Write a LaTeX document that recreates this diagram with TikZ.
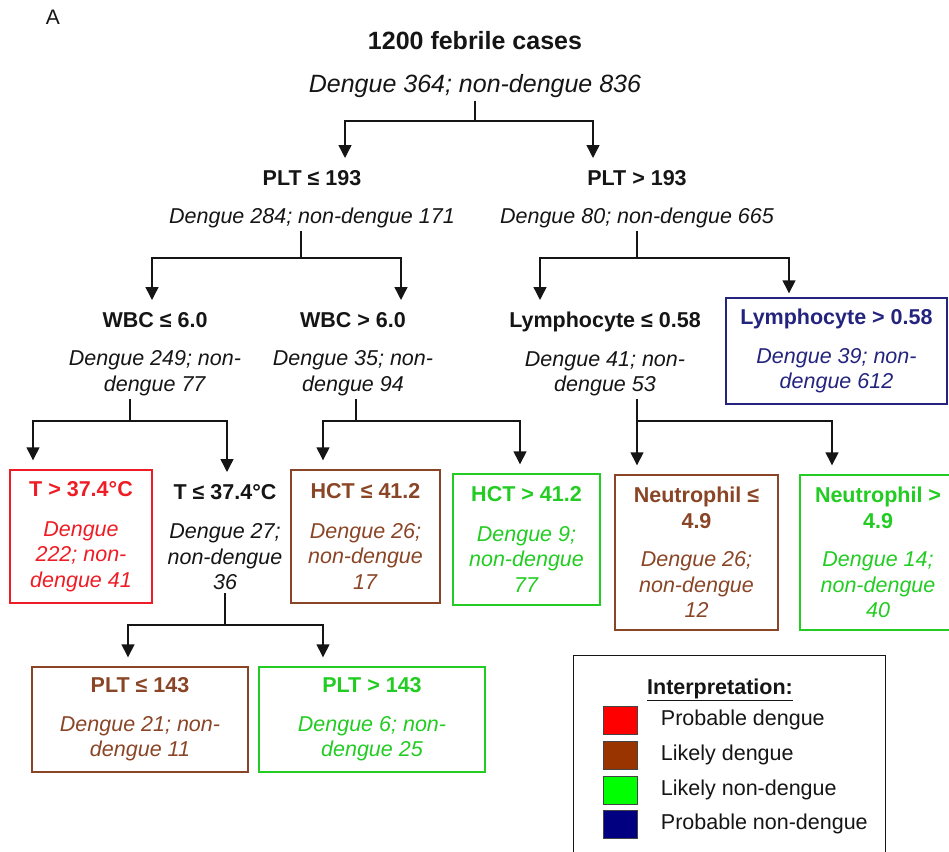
\documentclass[tikz,border=0pt]{standalone}
\usepackage{fontspec}
\setmainfont{Liberation Sans}
\usepackage{xcolor}
\usetikzlibrary{arrows.meta,positioning}
\definecolor{Ink}{HTML}{151515}
\definecolor{RedLeaf}{HTML}{EE1C24}
\definecolor{BrownLeaf}{HTML}{8A4526}
\definecolor{GreenLeaf}{HTML}{22CC22}
\definecolor{NavyLeaf}{HTML}{24247E}
\newcommand{\treefont}{\fontsize{21.5}{25.5}\selectfont}
\newcommand{\rootfont}{\fontsize{25}{29}\selectfont}

\begin{document}
\begin{tikzpicture}[x=1pt,y=-1pt,>=Latex,
  split/.style={align=center,font=\treefont,text=Ink,inner sep=3pt,anchor=north},
  leaf/.style={align=center,font=\treefont,draw=#1,text=#1,line width=1.4pt,inner sep=2pt},
  link/.style={draw=Ink,line width=1.4pt},
  flow/.style={link,-{Triangle[width=13pt,length=13pt]},shorten >=#1},
  flow/.default=9pt,
  swatch/.style={draw=Ink!80,line width=0.8pt,minimum width=34pt,minimum height=28pt,inner sep=0pt}]
  \clip (0,0) rectangle (949,851);
  \node[font=\fontsize{21}{24}\selectfont,text=Ink] (panel) at (53,17) {A};

  % root and first split
  \node[split,font=\rootfont] (root) at (475,28) {\textbf{1200 febrile cases}\\[14pt]\textit{Dengue 364; non-dengue 836}};
  \node[split] (plo) at (312,167) {\textbf{PLT ≤ 193}\\[13pt]\textit{Dengue 284; non-dengue 171}};
  \node[split] (phi) at (637,167) {\textbf{PLT > 193}\\[13pt]\textit{Dengue 80; non-dengue 665}};

  % second split
  \node[split] (wlo) at (155,309) {\textbf{WBC ≤ 6.0}\\[13pt]\textit{Dengue 249; non-}\\\textit{dengue 77}};
  \node[split] (whi) at (353,309) {\textbf{WBC > 6.0}\\[13pt]\textit{Dengue 35; non-}\\\textit{dengue 94}};
  \node[split] (llo) at (605,309) {\textbf{Lymphocyte ≤ 0.58}\\[13pt]\textit{Dengue 41; non-}\\\textit{dengue 53}};
  \node[leaf=NavyLeaf,minimum width=221pt,minimum height=106pt] (lhi) at (836.5,351) {\textbf{Lymphocyte > 0.58}\\[13pt]\textit{Dengue 39; non-}\\\textit{dengue 612}};

  % third split
  \node[leaf=RedLeaf,minimum width=142pt,minimum height=133pt] (thi) at (81,536.5) {\textbf{T > 37.4°C}\\[14pt]\textit{Dengue}\\\textit{222; non-}\\\textit{dengue 41}};
  \node[split] (tlo) at (225,481) {\textbf{T ≤ 37.4°C}\\[14pt]\textit{Dengue 27;}\\\textit{non-dengue}\\\textit{36}};
  \node[leaf=BrownLeaf,minimum width=149pt,minimum height=133pt] (clo) at (365.5,536.5) {\textbf{HCT ≤ 41.2}\\[14pt]\textit{Dengue 26;}\\\textit{non-dengue}\\\textit{17}};
  \node[leaf=GreenLeaf,minimum width=147pt,minimum height=131pt] (chi) at (526.5,539.5) {\textbf{HCT > 41.2}\\[14pt]\textit{Dengue 9;}\\\textit{non-dengue}\\\textit{77}};
  \node[leaf=BrownLeaf,minimum width=163pt,minimum height=155pt] (nlo) at (696.5,552.5) {\textbf{Neutrophil ≤}\\\textbf{4.9}\\[13pt]\textit{Dengue 26;}\\\textit{non-dengue}\\\textit{12}};
  \node[leaf=GreenLeaf,minimum width=156pt,minimum height=155pt] (nhi) at (878,552.5) {\textbf{Neutrophil >}\\\textbf{4.9}\\[13pt]\textit{Dengue 14;}\\\textit{non-dengue}\\\textit{40}};

  % fourth split
  \node[leaf=BrownLeaf,minimum width=216pt,minimum height=105pt] (qlo) at (140,719.5) {\textbf{PLT ≤ 143}\\[13pt]\textit{Dengue 21; non-}\\\textit{dengue 11}};
  \node[leaf=GreenLeaf,minimum width=226pt,minimum height=105pt] (qhi) at (372,719.5) {\textbf{PLT > 143}\\[13pt]\textit{Dengue 6; non-}\\\textit{dengue 25}};

  % connectors
  \coordinate (k1) at (475,121);
  \draw[link] (root.south) -- (k1);
  \draw[flow] (k1) -| ([xshift=33]plo.north);
  \draw[flow] (k1) -| ([xshift=-44]phi.north);
  \coordinate (k2) at (301,258);
  \draw[link] (plo.south -| k2) -- (k2);
  \draw[flow] (k2) -| ([xshift=-3]wlo.north);
  \draw[flow] (k2) -| ([xshift=48]whi.north);
  \coordinate (k3) at (637,258);
  \draw[link] (phi.south) -- (k3);
  \draw[flow] (k3) -| ([xshift=-65]llo.north);
  \draw[flow=4pt] (k3) -| ([xshift=-47.5]lhi.north);
  \coordinate (k4) at (130,421);
  \draw[link] (wlo.south -| k4) -- (k4);
  \draw[flow] (k4) -| ([xshift=-48]thi.north);
  \draw[flow] (k4) -| ([xshift=2]tlo.north);
  \coordinate (k5) at (356,421);
  \draw[link] (whi.south -| k5) -- (k5);
  \draw[flow] (k5) -| ([xshift=-42.5]clo.north);
  \draw[flow] (k5) -| ([xshift=-6.5]chi.north);
  \coordinate (k6) at (637,421);
  \draw[link] (llo.south -| k6) -- (k6);
  \draw[flow] (k6) -| ([xshift=-59.5]nlo.north);
  \draw[flow] (k6) -| ([xshift=-46]nhi.north);
  \coordinate (k7) at (225,625);
  \draw[link] (tlo.south) -- (k7);
  \draw[flow] (k7) -| ([xshift=-12]qlo.north);
  \draw[flow] (k7) -| ([xshift=-49]qhi.north);

  % legend
  \node[draw=Ink,line width=1.2pt,minimum width=312pt,minimum height=215pt,anchor=north west] (legend) at (573,655) {};
  \node[font=\treefont,text=Ink] (key) at (720,690) {\textbf{\underline{Interpretation:}}};
  \node[swatch,fill=red] (sw1) at (620,720) {};
  \node[swatch,fill={rgb,255:red,153;green,51;blue,0}] (sw2) at (620,755) {};
  \node[swatch,fill={rgb,255:red,0;green,255;blue,0}] (sw3) at (620,790) {};
  \node[swatch,fill={rgb,255:red,0;green,0;blue,128}] (sw4) at (620,824) {};
  \node[font=\treefont,text=Ink,right=20pt of sw1] {Probable dengue};
  \node[font=\treefont,text=Ink,right=20pt of sw2] {Likely dengue};
  \node[font=\treefont,text=Ink,right=20pt of sw3] {Likely non-dengue};
  \node[font=\treefont,text=Ink,right=20pt of sw4] {Probable non-dengue};
\end{tikzpicture}
\end{document}
